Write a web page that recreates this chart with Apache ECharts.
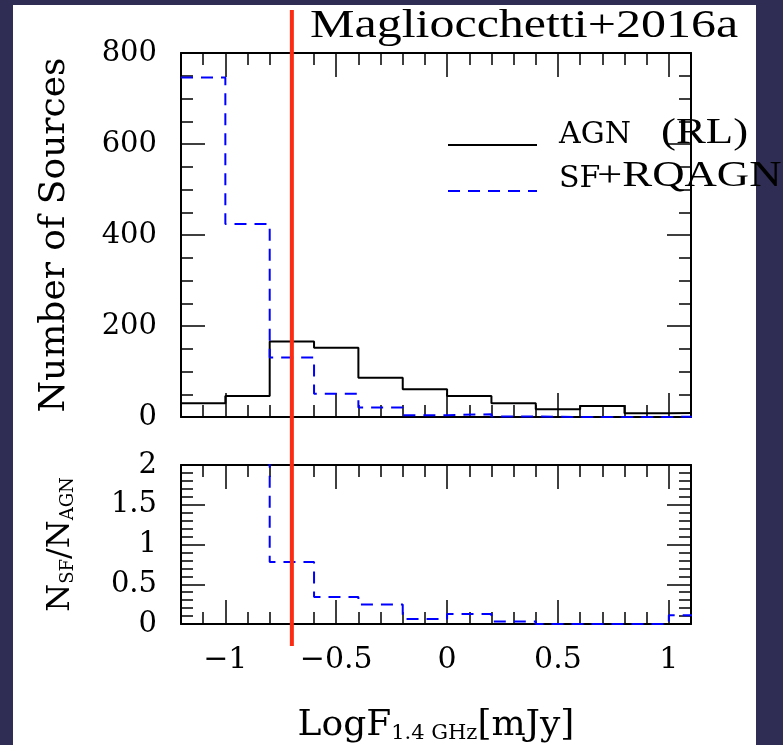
<!DOCTYPE html>
<html><head><meta charset="utf-8">
<script src="https://cdn.jsdelivr.net/npm/echarts@6/dist/echarts.min.js"></script>
<style>html,body{margin:0;padding:0;background:#302d55;} #c{width:783px;height:745px;}</style>
</head><body><div id="c"></div>
<script>
// ---- data ----
const binEdges = [-1.2, -1.0, -0.8, -0.6, -0.4, -0.2, 0.0, 0.2, 0.4, 0.6, 0.8, 1.0, 1.2];
const agnCounts = [30, 46, 166, 152, 86, 61, 46, 30, 17, 24, 8, 10];
const sfCounts = [746, 424, 131, 51, 21, 4, 6, 1, 0, 0, 0, 1];
const ratioValues = [24.9, 9.2, 0.78, 0.34, 0.245, 0.064, 0.127, 0.03, 0, 0, 0, 0.11];
const xTickValues = [-1, -0.5, 0, 0.5, 1];
const cutValue = -0.7;
const seriesNames = ['AGN', 'SF'];
const titleText = 'Magliocchetti+2016a';
const legendExtra = ['(RL)', '+RQAGN'];

function stepData(vals) {
  const d = vals.map((v, i) => [binEdges[i], v]);
  d.push([binEdges[vals.length], vals[vals.length - 1]]);
  return d;
}

const tickFont = 'DejaVu Serif';
const black = '#000';
const lineAx = { color: black, width: 2 };
const tickLs = { color: black, width: 1.5 };
const fmtX = v => (v < 0 ? '\u2212' + Math.abs(v) : String(v));

function xMinor(grid, pos) {
  return { type: 'value', gridIndex: grid, position: pos, min: -1.2, max: 1.1, interval: 0.1,
    axisLine: { show: true, onZero: false, lineStyle: lineAx },
    axisTick: { show: true, inside: true, length: 12, lineStyle: tickLs },
    axisLabel: { show: false }, splitLine: { show: false } };
}
function xMajor(grid, pos, withLabels) {
  const ax = { type: 'value', gridIndex: grid, position: pos, min: -1.2, max: 1.1,
    axisLine: { show: false, onZero: false },
    axisTick: { show: true, inside: true, length: 24, customValues: xTickValues, lineStyle: tickLs },
    axisLabel: { show: withLabels, customValues: xTickValues, formatter: fmtX, margin: 21,
      fontFamily: tickFont, fontSize: 30, color: black },
    splitLine: { show: false } };
  if (withLabels) {
    ax.name = '{a|LogF}{s|1.4 GHz}{a|[mJy]}';
    ax.nameLocation = 'middle';
    ax.nameGap = 78;
    ax.nameTextStyle = { rich: {
      a: { fontFamily: tickFont, fontSize: 36, lineHeight: 42, verticalAlign: 'bottom', color: black },
      s: { fontFamily: tickFont, fontSize: 21, lineHeight: 12, verticalAlign: 'bottom', color: black }
    } };
  }
  return ax;
}
function yAx(grid, pos, min, max, interval, split, withLabels, padTop) {
  return { type: 'value', gridIndex: grid, position: pos, min: min, max: max, interval: interval,
    axisLine: { show: true, onZero: false, lineStyle: lineAx },
    axisTick: { show: true, inside: true, length: 24, lineStyle: tickLs },
    minorTick: { show: true, splitNumber: split, length: 12, lineStyle: tickLs },
    axisLabel: { show: withLabels, margin: 24, fontFamily: tickFont, fontSize: 29, color: black,
      padding: [padTop || 0, 0, 0, 0] },
    splitLine: { show: false }, minorSplitLine: { show: false } };
}

const yTop = yAx(0, 'left', 0, 800, 200, 4, true, 5);
yTop.name = 'Number of Sources';
yTop.nameLocation = 'middle';
yTop.nameRotate = 90;
yTop.nameGap = 108;
yTop.nameTextStyle = { fontFamily: tickFont, fontSize: 36, color: black };

const yBot = yAx(1, 'left', 0, 2, 0.5, 5, true, 0);
yBot.name = '{a|N}{s|SF}{a|/N}{s|AGN}';
yBot.nameLocation = 'middle';
yBot.nameRotate = 90;
yBot.nameGap = 104;
yBot.nameTextStyle = { rich: {
  a: { fontFamily: tickFont, fontSize: 32, lineHeight: 40, verticalAlign: 'bottom', color: black },
  s: { fontFamily: tickFont, fontSize: 18, lineHeight: 12, verticalAlign: 'bottom', color: black }
} };

function legendCfg(name, top, lift) {
  return { data: [name], left: 447, top: top, orient: 'vertical', itemWidth: 89, itemHeight: 14,
    padding: 0, selectedMode: false,
    itemStyle: { color: 'rgba(0,0,0,0)', opacity: 0, borderWidth: 0 },
    formatter: n => '{t|' + n + '}',
    textStyle: { color: black, rich: { t: { fontFamily: tickFont, fontSize: 30, lineHeight: 34,
      color: black, padding: [0, 0, lift, 17] } } } };
}

const chart = echarts.init(document.getElementById('c'));
const option = {
  animation: false,
  backgroundColor: '#302d55',
  grid: [
    { left: 181, top: 53, width: 510, height: 364 },
    { left: 181, top: 465, width: 510, height: 160 }
  ],
  xAxis: [
    xMinor(0, 'bottom'), xMajor(0, 'bottom', false), xMinor(0, 'top'), xMajor(0, 'top', false),
    xMinor(1, 'bottom'), xMajor(1, 'bottom', true), xMinor(1, 'top'), xMajor(1, 'top', false)
  ],
  yAxis: [
    yTop, yAx(0, 'right', 0, 800, 200, 4, false),
    yBot, yAx(1, 'right', 0, 2, 0.5, 5, false)
  ],
  legend: [ legendCfg(seriesNames[0], 120, 20), legendCfg(seriesNames[1], 164, 24) ],
  series: [
    { name: seriesNames[0], type: 'line', xAxisIndex: 0, yAxisIndex: 0, data: stepData(agnCounts), step: 'end',
      symbol: 'none', lineStyle: { color: black, width: 2 }, itemStyle: { color: black }, z: 3 },
    { name: seriesNames[1], type: 'line', xAxisIndex: 0, yAxisIndex: 0, data: stepData(sfCounts), step: 'end',
      symbol: 'none', lineStyle: { color: '#0000ff', width: 2, type: [12, 8] }, itemStyle: { color: '#0000ff' }, z: 4 },
    { name: 'ratio', type: 'line', xAxisIndex: 4, yAxisIndex: 2, data: stepData(ratioValues), step: 'end',
      symbol: 'none', lineStyle: { color: '#0000ff', width: 2, type: [12, 8] }, itemStyle: { color: '#0000ff' }, z: 4 }
  ],
  graphic: [
    { type: 'rect', id: 'panel', shape: { x: 13, y: 5, width: 743, height: 745 }, style: { fill: '#ffffff' }, z: -100, silent: true },
    { type: 'text', id: 'title', x: 310, y: 26, scaleX: 1.25, z: 100,
      style: { text: titleText, fontSize: 40, fontFamily: 'Liberation Serif', fill: black, verticalAlign: 'middle' } },
    { type: 'text', id: 'rl', x: 661, y: 134, scaleX: 1.28, z: 100,
      style: { text: legendExtra[0], fontSize: 35, fontFamily: 'Liberation Serif', fill: black, verticalAlign: 'middle' } },
    { type: 'text', id: 'rq', x: 597, y: 177, scaleX: 1.28, z: 100,
      style: { text: legendExtra[1], fontSize: 35, fontFamily: 'Liberation Serif', fill: black, verticalAlign: 'middle' } }
  ]
};
chart.setOption(option);
const px = chart.convertToPixel({ xAxisIndex: 0 }, cutValue);
chart.setOption({ graphic: [
  { type: 'line', id: 'cut', z: 100, shape: { x1: px, y1: 10, x2: px, y2: 646 }, style: { stroke: '#fb2b14', lineWidth: 4 } }
] });
</script></body></html>
